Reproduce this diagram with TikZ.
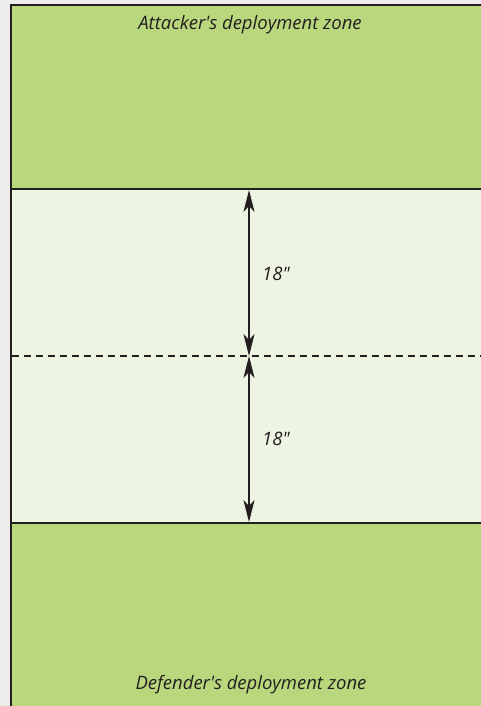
\documentclass[tikz,border=0pt]{standalone}
\usepackage{fontspec}
\setmainfont{Open Sans}[Ligatures=TeXOff]
\usetikzlibrary{arrows.meta}
\definecolor{zonegreen}{HTML}{B9D77D}
\definecolor{midzone}{HTML}{EEF4E2}
\definecolor{inkc}{HTML}{231F20}
\definecolor{bgc}{HTML}{EEECEB}
\tikzset{
  border/.style={draw=inkc, line width=2pt},
  dim/.style={draw=inkc, line width=1.3pt, {Stealth[length=22pt,width=11pt,inset=6pt]}-{Stealth[length=22pt,width=11pt,inset=6pt]}},
  lbl/.style={font=\itshape\fontsize{18.5}{21}\selectfont, text=inkc, inner sep=0pt}
}
\begin{document}
\begin{tikzpicture}[x=1pt,y=-1pt]
\useasboundingbox (0,0) rectangle (481,706);
\fill[bgc] (0,0) rectangle (481,706);
\fill[zonegreen] (11,5) rectangle (481,189);
\fill[midzone] (11,189) rectangle (481,523);
\fill[zonegreen] (11,523) rectangle (481,706);
\draw[border] (481,5) -- (11,5) -- (11,706);
\draw[border] (11,189) -- (481,189);
\draw[border] (11,523) -- (481,523);
\draw[draw=inkc, line width=1.5pt, dash pattern=on 7pt off 5pt] (12,356) -- (481,356);
\coordinate (top) at (249,190);
\coordinate (mid) at (249,356);
\coordinate (bot) at (249,522);
\draw[dim] (top) -- (mid);
\draw[dim] (mid) -- (bot);
\node[lbl, anchor=west] (l1) at (262,274) {18"};
\node[lbl, anchor=west] (l2) at (262,439) {18"};
\node[lbl] (att) at (250,25) {Attacker's deployment zone};
\node[lbl] (def) at (251,685) {Defender's deployment zone};
\end{tikzpicture}
\end{document}
